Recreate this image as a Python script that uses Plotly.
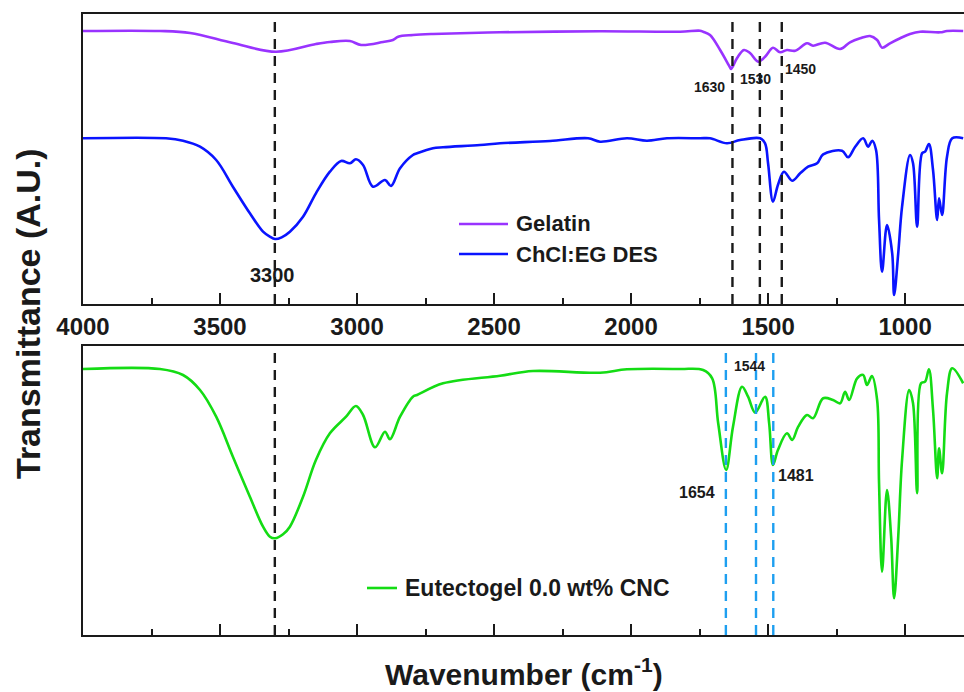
import plotly.graph_objects as go

# ---------------- data ----------------
# Gelatin (top panel, arbitrary units)
wn_gel = [4000, 3719, 3609, 3453, 3296, 3150, 3099, 3026, 2985, 2905, 2869, 2850, 2796,
          2723, 2478, 2113, 1821, 1748, 1737, 1712, 1675, 1639, 1635, 1613, 1588, 1566,
          1536, 1511, 1482, 1456, 1431, 1401, 1358, 1336, 1292, 1237, 1201, 1164, 1128,
          1102, 1084, 1055, 1018, 982, 945, 872, 847, 788]
t_gel = [273, 273, 271, 261, 252.3, 260, 262, 263, 259, 262, 264, 267.3, 269,
         270, 271.7, 272.7, 272.3, 273.3, 272.3, 269, 254, 236.7, 235, 246, 254, 251,
         242.3, 247.3, 256.3, 251.7, 254, 253.3, 260.7, 258.3, 261.3, 255, 261.7, 265.7, 268,
         264, 256.3, 260.7, 265.7, 270, 272.3, 271.7, 273, 273]

# ChCl:EG DES (top panel, arbitrary units)
wn_des = [4000, 3697, 3635, 3573, 3514, 3453, 3391, 3343, 3318, 3299, 3275, 3245, 3197,
          3150, 3099, 3058, 3026, 3004, 2978, 2942, 2898, 2876, 2843, 2796, 2781, 2723,
          2686, 2551, 2478, 2296, 2157, 2113, 2015, 1942, 1869, 1748, 1712, 1650, 1602,
          1529, 1511, 1500, 1482, 1464, 1442, 1412, 1383, 1354, 1321, 1299, 1230, 1208,
          1182, 1153, 1135, 1120, 1106, 1095, 1084, 1066, 1047, 1040, 1025, 1011, 982,
          971, 956, 938, 927, 913, 898, 883, 876, 865, 847, 828, 788]
t_des = [165.7, 165.7, 163.3, 157.3, 144, 117.3, 90.7, 72.3, 67.3, 65, 66.7, 72.3, 87.3,
         110.7, 132.3, 143, 140.7, 144.7, 139, 117.3, 124, 118, 135.7, 149, 150.7, 155.7,
         156.7, 159, 160.7, 163, 165.7, 162.3, 165.7, 163.3, 165.7, 165.7, 165.7, 160.7, 164,
         165.7, 160.7, 140.7, 102.3, 119, 132.3, 123.3, 130.7, 137.3, 140.7, 149.7, 153.3, 146.7,
         157.3, 165.7, 157.3, 163.3, 154, 84, 32.3, 79, 50.7, 9, 50.7, 97.3, 149,
         140.7, 77.3, 150.7, 152.3, 160, 134, 84, 105.7, 89, 147.3, 165.7, 165.7]

# Eutectogel 0.0 wt% CNC (bottom panel, arbitrary units)
wn_eg = [4000, 3719, 3635, 3573, 3514, 3453, 3391, 3343, 3318, 3299, 3270, 3245, 3197,
         3150, 3099, 3040, 3004, 2978, 2934, 2898, 2880, 2843, 2796, 2781, 2686, 2478,
         2358, 2113, 2015, 1821, 1737, 1704, 1682, 1653, 1628, 1595, 1573, 1547, 1511,
         1496, 1482, 1464, 1431, 1412, 1390, 1358, 1336, 1299, 1263, 1237, 1219, 1204,
         1175, 1153, 1139, 1121, 1102, 1095, 1084, 1066, 1051, 1040, 1025, 1011, 985,
         971, 956, 942, 927, 913, 898, 883, 876, 865, 847, 828, 788]
t_eg = [266, 266, 260, 245, 218.3, 178.3, 138.3, 108.3, 98.3, 96.7, 100.7, 108.3, 138.3,
        175, 201.7, 218.3, 229, 220, 187.7, 203.3, 195.7, 218.3, 238.3, 240, 251.7, 259.3,
        264, 262.3, 265.7, 266, 265, 256.7, 211.7, 165, 208.3, 248.3, 238.3, 222.3, 238.3,
        211.7, 170, 185, 201.7, 195, 208.3, 220, 216.7, 236.7, 235, 231.7, 243.3, 235,
        256.7, 260, 250, 259, 235, 151.7, 63.3, 145, 98.3, 36.7, 98.3, 175, 245,
        231.7, 141.7, 251.7, 253.3, 265.7, 225, 156.7, 186.7, 161.7, 241.7, 266.7, 251.7]

series_names = ["Gelatin", "ChCl:EG DES", "Eutectogel 0.0 wt% CNC"]
x_tick_vals = [4000, 3500, 3000, 2500, 2000, 1500, 1000]
x_tick_text = ["4000", "3500", "3000", "2500", "2000", "1500", "1000"]

top_marks = [3300, 1630, 1530, 1450]          # black dashed lines, top panel
bottom_black_marks = [3300]                   # black dashed line, bottom panel
bottom_blue_marks = [1654, 1544, 1481]        # light-blue dashed lines, bottom panel

# ---------------- styling ----------------
FONT = "Liberation Sans, Arial, sans-serif"
INK = "#1a1a1a"
C_GEL = "#9933ff"
C_DES = "#0a14ff"
C_EG = "#14dc14"
C_MARK = "#1e9ff0"
LW = 2.6
SM = 1.0

fig = go.Figure()
fig.add_trace(go.Scatter(x=wn_gel, y=t_gel, mode="lines", name=series_names[0],
                         xaxis="x", yaxis="y", showlegend=False,
                         line=dict(color=C_GEL, width=LW, shape="spline", smoothing=SM)))
fig.add_trace(go.Scatter(x=wn_des, y=t_des, mode="lines", name=series_names[1],
                         xaxis="x", yaxis="y", showlegend=False,
                         line=dict(color=C_DES, width=LW, shape="spline", smoothing=SM)))
fig.add_trace(go.Scatter(x=wn_eg, y=t_eg, mode="lines", name=series_names[2],
                         xaxis="x2", yaxis="y2", showlegend=False,
                         line=dict(color=C_EG, width=LW, shape="spline", smoothing=SM)))

xcommon = dict(range=[4000, 785], tickvals=x_tick_vals, ticktext=x_tick_text,
               ticks="inside", ticklen=11, tickwidth=2, tickcolor=INK,
               showline=True, linewidth=2, linecolor=INK, mirror=True,
               showgrid=False, zeroline=False,
               minor=dict(dtick=250, tick0=0, ticks="inside", ticklen=6, tickwidth=2,
                          tickcolor=INK, showgrid=False),
               tickfont=dict(family=FONT, size=24, color=INK, weight="bold"))
ycommon = dict(showline=True, linewidth=2, linecolor=INK, mirror=False,
               showticklabels=False, ticks="", showgrid=False, zeroline=False)

fig.update_layout(
    width=964, height=692,
    margin=dict(l=83, r=0, t=14, b=57),
    paper_bgcolor="white", plot_bgcolor="white",
    xaxis=dict(domain=[0, 1], anchor="y", showticklabels=True, **xcommon),
    xaxis2=dict(domain=[0, 1], anchor="y2", showticklabels=False, matches="x", **xcommon),
    yaxis=dict(domain=[0.533, 1], range=[0, 290], anchor="x", **ycommon),
    yaxis2=dict(domain=[0, 0.4654], range=[0, 289], anchor="x2", **ycommon),
    showlegend=False,
)

shapes = []
for w in top_marks:
    shapes.append(dict(type="line", xref="x", yref="y domain", x0=w, x1=w, y0=0, y1=0.979,
                       line=dict(color=INK, width=2.4, dash="10px,7px")))
for w in bottom_black_marks:
    shapes.append(dict(type="line", xref="x2", yref="y2 domain", x0=w, x1=w, y0=0, y1=0.979,
                       line=dict(color=INK, width=2.4, dash="10px,7px")))
for w in bottom_blue_marks:
    shapes.append(dict(type="line", xref="x2", yref="y2 domain", x0=w, x1=w, y0=0, y1=0.979,
                       line=dict(color=C_MARK, width=2.4, dash="10px,7px")))

# custom legends (paper coordinates)
def px_x(p):
    return (p - 83) / 881.0

def px_y(p):
    return (635 - p) / 621.0

legend_items = [
    (series_names[0], C_GEL, 459, 508, 224, 22),
    (series_names[1], C_DES, 459, 508, 254, 22),
    (series_names[2], C_EG, 367, 397, 588, 23),
]
annotations = []
for name, col, xa, xb, yy, fs in legend_items:
    shapes.append(dict(type="line", xref="paper", yref="paper",
                       x0=px_x(xa), x1=px_x(xb), y0=px_y(yy), y1=px_y(yy),
                       line=dict(color=col, width=LW)))
    annotations.append(dict(xref="paper", yref="paper", x=px_x(xb + 6), y=px_y(yy),
                            xanchor="left", yanchor="middle", showarrow=False, text=name,
                            font=dict(family=FONT, size=fs, color=INK, weight="bold")))

peak_labels = [
    ("3300", "x", "y", 3307, 29.3, 20),
    ("1630", "x", "y", 1712, 217.3, 14),
    ("1530", "x", "y", 1545, 225, 14),
    ("1450", "x", "y", 1382, 235, 14),
    ("1654", "x2", "y2", 1760, 142, 16),
    ("1481", "x2", "y2", 1399, 159, 16),
    ("1544", "x2", "y2", 1568, 269.3, 14),
]
for txt, xr, yr, xv, yv, fs in peak_labels:
    annotations.append(dict(xref=xr, yref=yr, x=xv, y=yv, text=txt, showarrow=False,
                            xanchor="center", yanchor="middle",
                            font=dict(family=FONT, size=fs, color=INK, weight="bold")))

annotations.append(dict(xref="paper", yref="paper", x=0.5, y=px_y(672),
                        xanchor="center", yanchor="middle", showarrow=False,
                        text="Wavenumber (cm<sup>-1</sup>)",
                        font=dict(family=FONT, size=30, color=INK, weight="bold")))
annotations.append(dict(xref="paper", yref="paper", x=px_x(28), y=px_y(314),
                        xanchor="center", yanchor="middle", showarrow=False, textangle=-90,
                        text="Transmittance (A.U.)",
                        font=dict(family=FONT, size=34, color=INK, weight="bold")))

fig.update_layout(shapes=shapes, annotations=annotations)
fig.write_html("out.html")
